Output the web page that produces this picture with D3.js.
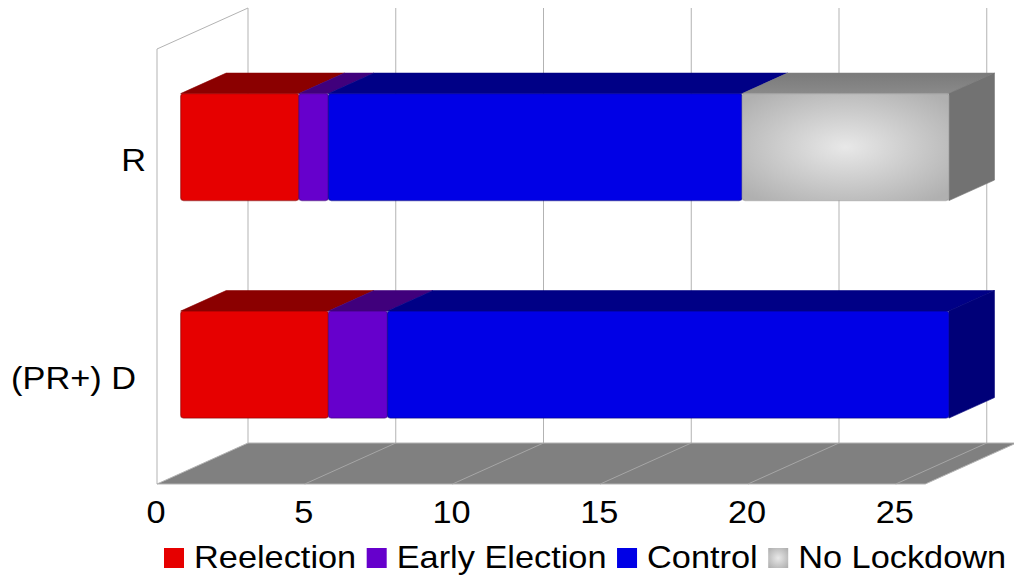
<!DOCTYPE html>
<html>
<head>
<meta charset="utf-8">
<script src="https://cdn.jsdelivr.net/npm/d3@7/dist/d3.min.js"></script>
<style>
  html, body { margin: 0; padding: 0; background: #fff; }
  svg { display: block; }
  text { font-family: "Liberation Sans", Arial, sans-serif; fill: #000; }
</style>
</head>
<body>
<svg id="chart" width="1014" height="576"></svg>
<script>
// ---- data ----
const categories = ["R", "(PR+) D"];
const seriesNames = ["Reelection", "Early Election", "Control", "No Lockdown"];
const reelection = [4, 5];
const earlyElection = [1, 2];
const control = [14, 19];
const noLockdown = [7, 0];
const xTicks = [0, 5, 10, 15, 20, 25];
const xMax = 26;

// ---- styling ----
const frontColors = ["#e60000", "#6600cc", "#0000e6", null];
const topColors = ["#8b0000", "#40007c", "#000086", "#808080"];
const sideColors = ["#7a0000", "#36006a", "#000078", "#727272"];
const textScale = 1.09;   // horizontally widened lettering
const fontSize = 31.5;

const svg = d3.select("#chart");
const defs = svg.append("defs");
const grad = defs.append("radialGradient").attr("id", "noLockGrad")
  .attr("cx", "50%").attr("cy", "50%").attr("r", "65%");
grad.append("stop").attr("offset", "0%").attr("stop-color", "#e8e8e8");
grad.append("stop").attr("offset", "100%").attr("stop-color", "#b0b0b0");
const topGrad = defs.append("linearGradient").attr("id", "noLockTop")
  .attr("x1", "0").attr("y1", "1").attr("x2", "0").attr("y2", "0");
topGrad.append("stop").attr("offset", "0%").attr("stop-color", "#8a8a8a");
topGrad.append("stop").attr("offset", "100%").attr("stop-color", "#7a7a7a");
const fillFront = i => frontColors[i] || "url(#noLockGrad)";
const fillTop = i => i === 3 ? "url(#noLockTop)" : topColors[i];

// ---- scales and 3D projection ----
const frontTop = 49, frontBottom = 484;
const depthDX = 91, depthDY = -41;
const x = d3.scaleLinear().domain([0, xMax]).range([157, 157 + xMax * 29.55]);
const y = d3.scaleBand().domain(categories).range([frontTop, frontBottom])
  .paddingInner(0.508).paddingOuter(0.254);
const barFront = 0.26, barBack = 0.76;   // bar depth span within the box
const P = (v, yy, d) => [x(v) + depthDX * d, yy + depthDY * d];
const poly = pts => "M" + pts.map(p => p.join(",")).join("L") + "Z";

// ---- stacked layout ----
const rows = categories.map((c, i) => ({
  cat: c,
  "Reelection": reelection[i],
  "Early Election": earlyElection[i],
  "Control": control[i],
  "No Lockdown": noLockdown[i]
}));
const stacked = d3.stack().keys(seriesNames)(rows);

// ---- walls and floor ----
const gridColor = "#b3b3b3";
const g = svg.append("g");
// left wall outline
g.append("path")
  .attr("d", "M" + P(0, frontBottom, 0) + "L" + P(0, frontTop, 0) + "L" + P(0, frontTop, 1))
  .attr("fill", "none").attr("stroke", gridColor).attr("stroke-width", 1);
// back wall vertical gridlines
g.selectAll(".vgrid").data(xTicks).join("line")
  .attr("x1", d => P(d, frontTop, 1)[0]).attr("x2", d => P(d, frontBottom, 1)[0])
  .attr("y1", P(0, frontTop, 1)[1]).attr("y2", P(0, frontBottom, 1)[1])
  .attr("stroke", gridColor).attr("stroke-width", 1);
// floor
g.append("path")
  .attr("d", poly([P(0, frontBottom, 0), P(xMax, frontBottom, 0), P(xMax, frontBottom, 1), P(0, frontBottom, 1)]))
  .attr("fill", "#808080").attr("stroke", gridColor).attr("stroke-width", 1);
g.selectAll(".fgrid").data(xTicks.slice(1)).join("line")
  .attr("x1", d => P(d, frontBottom, 0)[0]).attr("y1", frontBottom)
  .attr("x2", d => P(d, frontBottom, 1)[0]).attr("y2", P(0, frontBottom, 1)[1])
  .attr("stroke", "#a6a6a6").attr("stroke-width", 1);

// ---- bars ----
const bars = svg.append("g");
categories.forEach((cat, ci) => {
  const y0 = y(cat), y1 = y(cat) + y.bandwidth();
  const segs = stacked.map((s, si) => ({ si, a: s[ci][0], b: s[ci][1] }))
    .filter(s => s.b > s.a);
  segs.forEach((s, k) => {
    const last = k === segs.length - 1;
    // top face
    bars.append("path")
      .attr("d", poly([P(s.a, y0, barFront), P(s.b, y0, barFront), P(s.b, y0, barBack), P(s.a, y0, barBack)]))
      .attr("fill", fillTop(s.si)).attr("stroke", topColors[s.si]).attr("stroke-width", 0.6)
      .attr("stroke-linejoin", "round");
    // right side face (visible only at the bar's end)
    if (last) {
      bars.append("path")
        .attr("d", poly([P(s.b, y0, barFront), P(s.b, y0, barBack), P(s.b, y1, barBack), P(s.b, y1, barFront)]))
        .attr("fill", sideColors[s.si]).attr("stroke", sideColors[s.si]).attr("stroke-width", 0.6)
        .attr("stroke-linejoin", "round");
    }
    // front face
    const f0 = P(s.a, y0, barFront), f1 = P(s.b, y1, barFront);
    bars.append("rect")
      .attr("x", f0[0]).attr("y", f0[1])
      .attr("width", f1[0] - f0[0]).attr("height", f1[1] - f0[1])
      .attr("rx", 3).attr("ry", 3)
      .attr("fill", fillFront(s.si))
      .attr("stroke", s.si === 3 ? "#9a9a9a" : topColors[s.si])
      .attr("stroke-opacity", 0.55).attr("stroke-width", 1.2);
  });
});

// ---- axis labels ----
svg.append("g").selectAll("text").data(xTicks).join("text")
  .attr("transform", d => `translate(${x(d) - 1},523) scale(${textScale},1)`)
  .attr("text-anchor", "middle").attr("font-size", fontSize)
  .text(d => d);

const catY = d => y(d) + y.bandwidth() / 2;
svg.append("g").selectAll("text").data(categories).join("text")
  .attr("transform", d => `translate(${x(0) - 11 - (catY(d) - catY(categories[0])) * 0.046},${catY(d) + 13.5}) scale(${textScale},1)`)
  .attr("text-anchor", "end").attr("font-size", fontSize)
  .text(d => d);

// ---- legend ----
const legend = svg.append("g");
let lx = 164;
seriesNames.forEach((name, i) => {
  legend.append("rect")
    .attr("x", lx).attr("y", 548).attr("width", 20).attr("height", 20)
    .attr("fill", fillFront(i));
  const t = legend.append("text")
    .attr("transform", `translate(${lx + 30},568) scale(${textScale},1)`)
    .attr("font-size", fontSize).text(name);
  lx += 30 + t.node().getComputedTextLength() * textScale + 10.5;
});
</script>
</body>
</html>
